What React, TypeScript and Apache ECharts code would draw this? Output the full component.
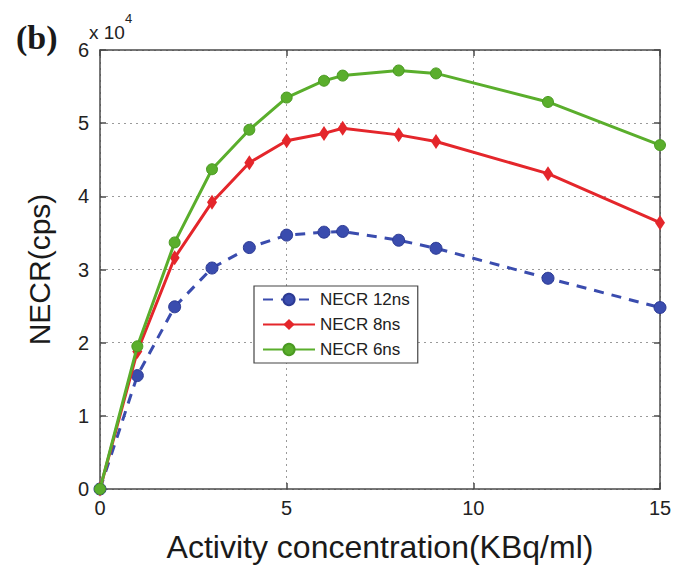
import React, { useEffect, useRef } from "react";
import * as echarts from "echarts";

const activity = [0, 1, 2, 3, 4, 5, 6, 6.5, 8, 9, 12, 15];
const necr12ns = [0, 15500, 24900, 30200, 33000, 34700, 35100, 35200, 34000, 32900, 28800, 24800];
const necr8ns = [0, 18800, 31600, 39200, 44600, 47600, 48600, 49300, 48400, 47500, 43100, 36400];
const necr6ns = [0, 19500, 33700, 43700, 49100, 53500, 55800, 56500, 57200, 56800, 52900, 47000];
const seriesNames = ["NECR 12ns", "NECR 8ns", "NECR 6ns"];
const yTicks = [0, 1, 2, 3, 4, 5, 6];

const pairs = (ys: number[]) => activity.map((x, i) => [x, ys[i]]);

export default function App() {
  const ref = useRef<HTMLDivElement>(null);
  useEffect(() => {
    if (!ref.current) return;
    const chart = echarts.init(ref.current, null, { renderer: "svg" });
    const font = "'Liberation Sans', Arial, Helvetica, sans-serif";
    const axisColor = "#4a4a4a";
    const grid = { left: 100, right: 23, top: 50, bottom: 88 };
    const baseX = {
      type: "value" as const,
      min: 0,
      max: 15,
      interval: 5,
      axisLine: { show: true, onZero: false, lineStyle: { color: axisColor, width: 1.5 } },
      axisTick: { show: true, inside: true, length: 6, lineStyle: { color: axisColor, width: 1.5 } },
    };
    const baseY = {
      type: "value" as const,
      min: 0,
      max: 60000,
      interval: 10000,
      axisLine: { show: true, onZero: false, lineStyle: { color: axisColor, width: 1.5 } },
      axisTick: { show: true, inside: true, length: 6, lineStyle: { color: axisColor, width: 1.5 } },
    };
    const colors = ["#3a4cae", "#e4262b", "#5aae2c"];
    chart.setOption({
      animation: false,
      backgroundColor: "#ffffff",
      color: colors,
      grid,
      textStyle: { fontFamily: font },
      legend: {
        show: true,
        orient: "vertical",
        left: 254,
        top: 286,
        padding: [5, 8, 5, 8],
        itemGap: 8,
        itemWidth: 52,
        itemHeight: 14,
        backgroundColor: "#ffffff",
        borderColor: "#444",
        borderWidth: 1.2,
        borderRadius: 0,
        textStyle: { fontFamily: font, fontSize: 17, color: "#222" },
        data: seriesNames,
      },
      xAxis: [
        {
          ...baseX,
          position: "bottom",
          name: "Activity concentration(KBq/ml)",
          nameLocation: "middle",
          nameGap: 42,
          nameTextStyle: { fontFamily: font, fontSize: 32, color: "#1a1a1a" },
          axisLabel: { show: true, margin: 9, fontSize: 20, color: "#222", fontFamily: font },
          splitLine: { show: true, lineStyle: { color: "#9a9a9a", type: [2, 4], width: 1 } },
        },
        {
          ...baseX,
          position: "top",
          axisLabel: { show: false },
          splitLine: { show: false },
        },
      ],
      yAxis: [
        {
          ...baseY,
          position: "left",
          name: "NECR(cps)",
          nameLocation: "middle",
          nameRotate: 90,
          nameGap: 46,
          nameTextStyle: { fontFamily: font, fontSize: 30, color: "#1a1a1a" },
          axisLabel: {
            show: true,
            margin: 11,
            fontSize: 20,
            color: "#222",
            fontFamily: font,
            formatter: (v: number) => String(yTicks[Math.round(v / 10000)]),
          },
          splitLine: { show: true, lineStyle: { color: "#9a9a9a", type: [2, 4], width: 1 } },
        },
        {
          ...baseY,
          position: "right",
          axisLabel: { show: false },
          splitLine: { show: false },
        },
      ],
      graphic: [
        {
          type: "text",
          left: 16,
          top: 20,
          style: {
            text: "(b)",
            font: "bold 34px 'Liberation Serif', 'Times New Roman', serif",
            fill: "#1a1a1a",
          },
        },
        {
          type: "text",
          left: 89,
          top: 12,
          style: {
            text: "{b|x 10}{s|4}",
            rich: {
              b: { fontSize: 19, fontFamily: font, fill: "#222", verticalAlign: "bottom", padding: [11, 0, 0, 0] },
              s: { fontSize: 13, fontFamily: font, fill: "#222", verticalAlign: "top" },
            },
          },
        },
      ],
      series: [
        {
          name: seriesNames[0],
          type: "line",
          data: pairs(necr12ns),
          symbol: "circle",
          symbolSize: 12,
          lineStyle: { width: 3, type: [10, 8], color: colors[0] },
          itemStyle: { color: colors[0], borderColor: "#2c3a94", borderWidth: 1 },
          z: 2,
        },
        {
          name: seriesNames[1],
          type: "line",
          data: pairs(necr8ns),
          symbol: "diamond",
          symbolSize: [10, 15],
          lineStyle: { width: 3, color: colors[1] },
          itemStyle: { color: colors[1] },
          z: 3,
        },
        {
          name: seriesNames[2],
          type: "line",
          data: pairs(necr6ns),
          symbol: "circle",
          symbolSize: 11,
          lineStyle: { width: 3, color: colors[2] },
          itemStyle: { color: colors[2], borderColor: "#4a9a22", borderWidth: 1 },
          z: 4,
        },
      ],
    });
    return () => chart.dispose();
  }, []);
  return <div ref={ref} style={{ width: 683, height: 577, position: "absolute", left: 0, top: 0 }} />;
}
